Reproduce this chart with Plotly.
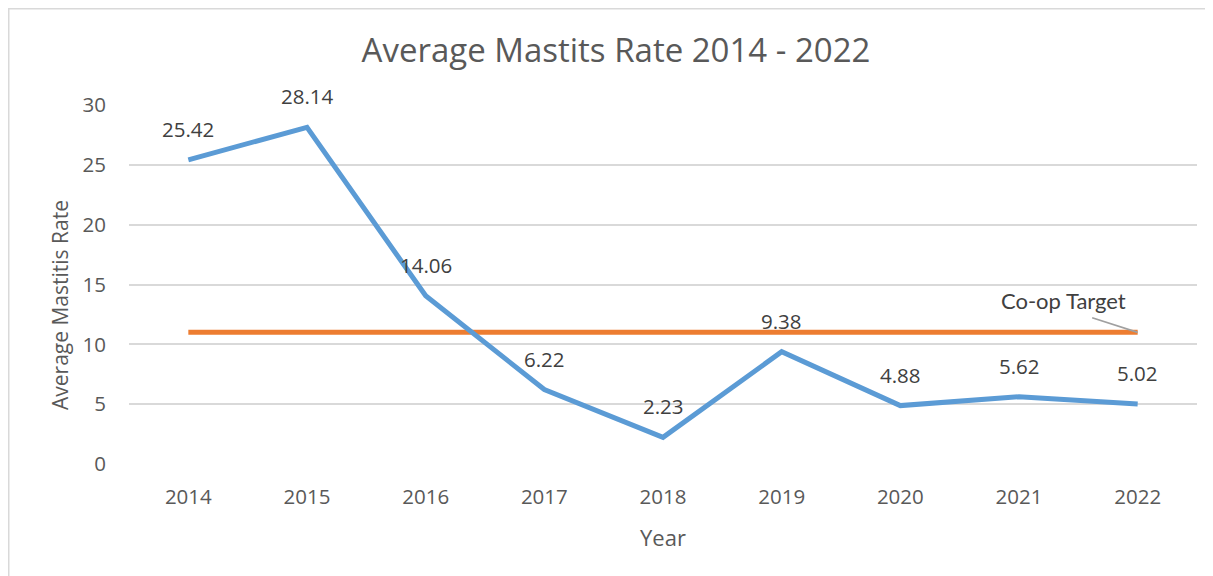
import plotly.graph_objects as go

years = ["2014", "2015", "2016", "2017", "2018", "2019", "2020", "2021", "2022"]
mastitis_rate = [25.42, 28.14, 14.06, 6.22, 2.23, 9.38, 4.88, 5.62, 5.02]
coop_target = [11, 11, 11, 11, 11, 11, 11, 11, 11]
y_ticks = [0, 5, 10, 15, 20, 25, 30]

TEXT = "#595959"
FONT = "Open Sans"

# page body has an 8px margin: layout expressed in figure pixels
L, R_EDGE, T, B_EDGE = 121, 1189, 97, 456
PW, PH = R_EDGE - L, B_EDGE - T

fig = go.Figure()
fig.add_trace(go.Scatter(x=years, y=coop_target, mode="lines",
                         line=dict(color="#ED7D31", width=5), hoverinfo="skip"))
fig.add_trace(go.Scatter(x=years, y=mastitis_rate, mode="lines",
                         line=dict(color="#5B9BD5", width=5)))

annotations = []
for i, v in enumerate(mastitis_rate):
    annotations.append(dict(x=i, y=v, xref="x", yref="y", text=f"{v:.2f}", showarrow=False,
                            yshift=31, font=dict(size=20.5, color="#404040", family=FONT)))

last = len(years) - 1
# leader line
annotations.append(dict(x=last, y=coop_target[-1], xref="x", yref="y", text=" ",
                        showarrow=True, arrowhead=0, arrowwidth=1.6, arrowcolor="#A0A0A0",
                        ax=-47, ay=-15, standoff=0, font=dict(size=1)))
# label
annotations.append(dict(x=last, y=coop_target[-1], xref="x", yref="y", text="Co-op Target",
                        showarrow=False, xshift=-74, yshift=32,
                        font=dict(size=22, color="#404040", family="Lato")))
annotations.append(dict(xref="paper", yref="paper", x=0.5, y=(B_EDGE - 529) / PH,
                        yanchor="middle", text="Year",
                        showarrow=False, font=dict(size=22, color=TEXT, family=FONT)))
annotations.append(dict(xref="paper", yref="paper", x=(52 - L) / PW, y=(B_EDGE - 297) / PH,
                        xanchor="center", yanchor="middle", text="Average Mastitis Rate",
                        textangle=-90, showarrow=False, font=dict(size=21, color=TEXT, family=FONT)))

fig.update_layout(
    width=1213, height=576,
    margin=dict(l=L, r=1213 - R_EDGE, t=T, b=576 - B_EDGE),
    paper_bgcolor="white", plot_bgcolor="white",
    showlegend=False,
    title=dict(text="Average Mastits Rate 2014 - 2022", x=(616 - 8) / 1213, xanchor="center",
               y=1 - 42 / 576, yanchor="middle",
               font=dict(size=33, color=TEXT, family=FONT)),
    xaxis=dict(type="category", range=[-0.5, 8.5], showgrid=False, showline=False,
               zeroline=False, ticks="", ticklabelstandoff=18,
               tickfont=dict(size=20.5, color=TEXT, family=FONT)),
    yaxis=dict(range=[0, 30], tickvals=y_ticks, showgrid=True, gridcolor="#D9D9D9",
               gridwidth=1.5, zeroline=False, showline=False, ticks="",
               ticklabelstandoff=22, tickfont=dict(size=20.5, color=TEXT, family=FONT)),
    annotations=annotations,
    shapes=[dict(type="rect", xref="paper", yref="paper",
                 x0=(0.75 - L) / PW, x1=(1240 - L) / PW,
                 y0=(B_EDGE - 600) / PH, y1=(B_EDGE - 0.75) / PH,
                 line=dict(color="#D9D9D9", width=1.5), layer="below")],
)

fig.write_html("out.html")
